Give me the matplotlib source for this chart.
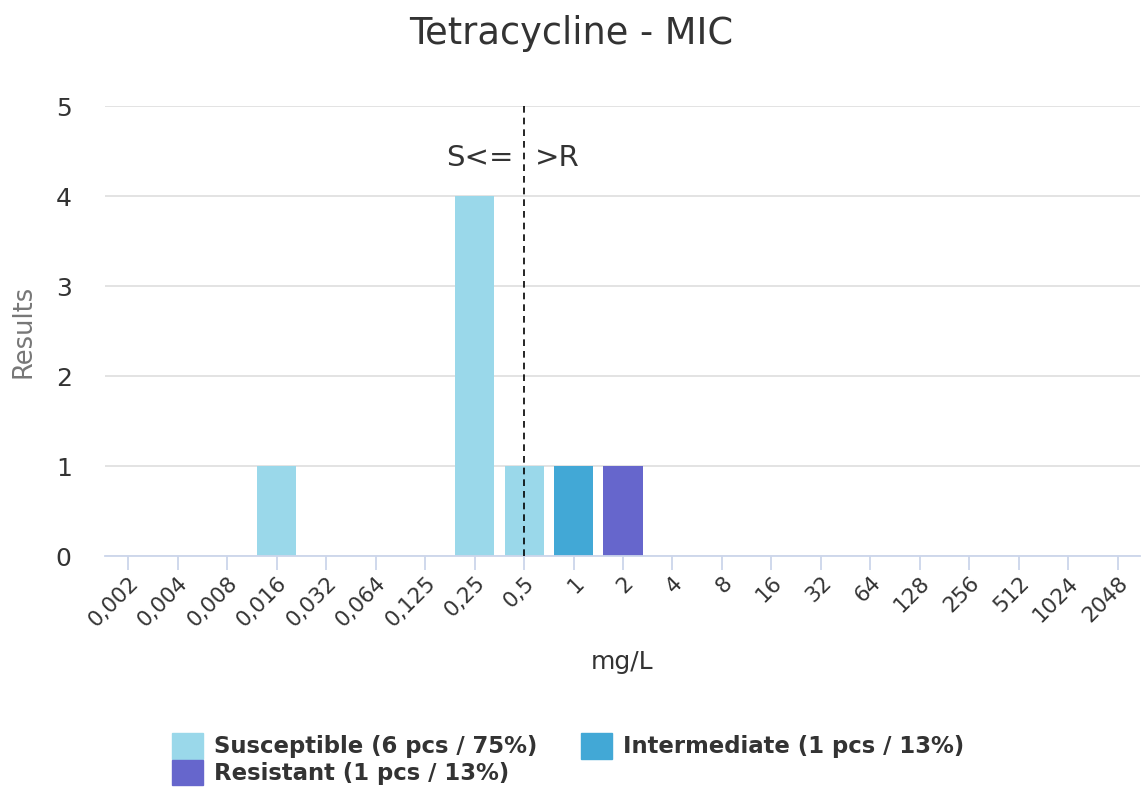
import numpy as np
import matplotlib.pyplot as plt
from matplotlib.patches import Patch

plt.rcParams['font.family'] = ['DejaVu Sans']

# MIC categories (mg/L) and result counts per interpretation
categories = ["0,002", "0,004", "0,008", "0,016", "0,032", "0,064", "0,125", "0,25",
              "0,5", "1", "2", "4", "8", "16", "32", "64", "128", "256", "512", "1024", "2048"]
susceptible = [0, 0, 0, 1, 0, 0, 0, 4, 1, 0, 0, 0, 0, 0, 0, 0, 0, 0, 0, 0, 0]
intermediate = [0, 0, 0, 0, 0, 0, 0, 0, 0, 1, 0, 0, 0, 0, 0, 0, 0, 0, 0, 0, 0]
resistant = [0, 0, 0, 0, 0, 0, 0, 0, 0, 0, 1, 0, 0, 0, 0, 0, 0, 0, 0, 0, 0]
breakpoint = "0,5"
legend_labels = ["Susceptible (6 pcs / 75%)", "Intermediate (1 pcs / 13%)", "Resistant (1 pcs / 13%)"]

c_s, c_i, c_r = "#9ad8ea", "#42a8d6", "#6666cc"

fig = plt.figure(figsize=(11.41, 7.95), dpi=100)
ax = fig.add_axes([105/1141, 1-556/795, 1035/1141, 450/795])

x = np.arange(len(categories))
w = 0.79
ax.bar(x, susceptible, w, color=c_s, zorder=2)
ax.bar(x, intermediate, w, bottom=susceptible, color=c_i, zorder=2)
ax.bar(x, resistant, w, bottom=np.add(susceptible, intermediate), color=c_r, zorder=2)

bx = categories.index(breakpoint)
ax.plot([bx, bx], [0, 5], color="black", lw=1.2, ls=(0, (4, 3)), zorder=3)
ax.text(bx - 0.22, 4.42, "S<=", ha="right", va="center", fontsize=21, color="#333333")
ax.text(bx + 0.22, 4.42, ">R", ha="left", va="center", fontsize=21, color="#333333")

ax.set_xlim(-0.47, 20.45)
ax.set_ylim(0, 5)
ax.set_yticks(range(6))
ax.yaxis.grid(True, color="#e0e0e0", lw=1.3, zorder=0)
ax.set_axisbelow(True)
for s in ["top", "right", "left"]:
    ax.spines[s].set_visible(False)
ax.spines["bottom"].set_color("#ccd6eb")
ax.spines["bottom"].set_linewidth(1.3)
ax.tick_params(axis="y", length=0, pad=24, labelsize=18, labelcolor="#333333")
ax.tick_params(axis="x", length=10, width=1.3, color="#ccd6eb", labelsize=15.5,
               labelcolor="#333333", pad=2)
ax.set_xticks(x)
ax.set_xticklabels(categories, rotation=45, ha="right", rotation_mode="anchor")

ax.set_ylabel("Results", fontsize=18.5, color="#777777", labelpad=14)
fig.text(622/1141, 1-662/795, "mg/L", ha="center", va="center", fontsize=18, color="#333333")
fig.text(571/1141, 1-34/795, "Tetracycline - MIC", ha="center", va="center", fontsize=26.5, color="#333333")

handles = [Patch(color=c_s), Patch(color=c_r), Patch(color=c_i)]
labels = [legend_labels[0], legend_labels[2], legend_labels[1]]
leg = fig.legend(handles, labels, ncol=2, loc="upper left", bbox_to_anchor=(163/1141, 1-724/795),
                 frameon=False, handlelength=1.35, handleheight=1.35, handletextpad=0.5,
                 columnspacing=1.9, labelspacing=0.05, borderaxespad=0,
                 prop={"weight": "bold", "size": 16.4})
for t in leg.get_texts():
    t.set_color("#333333")

fig.savefig("out.png", dpi=100)
